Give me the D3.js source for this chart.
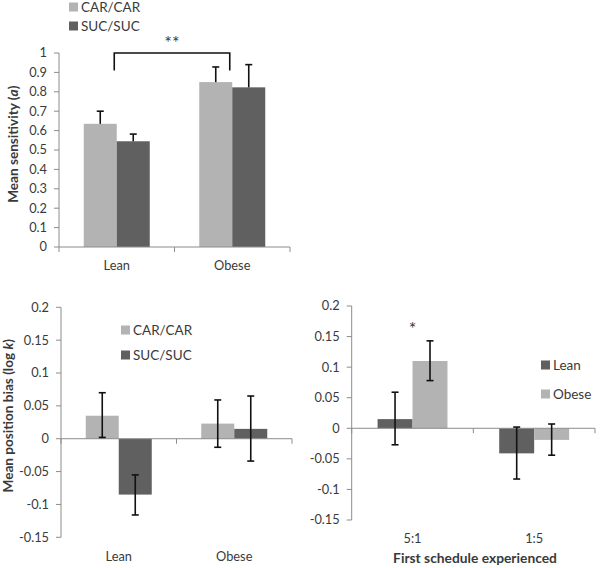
<!DOCTYPE html>
<html><head><meta charset="utf-8">
<script src="https://cdn.jsdelivr.net/npm/d3@7"></script>
<style>
body{margin:0;background:#fff;}
text{font-family:Lato,"Open Sans",sans-serif;fill:#3a3a3a;}
</style></head>
<body><svg id="c" width="600" height="568"></svg>
<script>
// ---- Panel 1: mean sensitivity ----
const groups1 = ["Lean","Obese"];
const series1 = ["CAR/CAR","SUC/SUC"];
const sensCar = [0.635, 0.850];
const sensSuc = [0.545, 0.823];
const sensCarHi = [0.700, 0.928];
const sensSucHi = [0.582, 0.940];
const ticks1 = [0,0.1,0.2,0.3,0.4,0.5,0.6,0.7,0.8,0.9,1];
const tickLabels1 = ["0","0.1","0.2","0.3","0.4","0.5","0.6","0.7","0.8","0.9","1"];

// ---- Panel 2: position bias ----
const groups2 = ["Lean","Obese"];
const biasCar = [0.035, 0.023];
const biasSuc = [-0.085, 0.015];
const biasCarLo = [0.002, -0.013];
const biasCarHi = [0.070, 0.059];
const biasSucLo = [-0.116, -0.034];
const biasSucHi = [-0.055, 0.065];
const ticksB = [-0.15,-0.1,-0.05,0,0.05,0.1,0.15,0.2];
const tickLabelsB = ["-0.15","-0.1","-0.05","0","0.05","0.1","0.15","0.2"];

// ---- Panel 3: first schedule ----
const schedules = ["5:1","1:5"];
const series3 = ["Lean","Obese"];
const schedLean = [0.015, -0.041];
const schedObese = [0.110, -0.019];
const schedLeanLo = [-0.027, -0.083];
const schedLeanHi = [0.059, 0.002];
const schedObeseLo = [0.078, -0.044];
const schedObeseHi = [0.143, 0.007];

const LIGHT = "#b3b3b3", DARK = "#606060", AXIS = "#8c8c8c";
const FS = 12.8, FT = 13.6;
const svg = d3.select("#c");

function yAxis(g, y, x0, ticks, labels){
  const a = g.append("g");
  a.append("line").attr("x1",x0).attr("x2",x0)
    .attr("y1",y(d3.max(ticks))).attr("y2",y(d3.min(ticks)))
    .attr("stroke",AXIS).attr("stroke-width",1);
  ticks.forEach((t,i)=>{
    a.append("line").attr("x1",x0-5).attr("x2",x0).attr("y1",y(t)).attr("y2",y(t))
      .attr("stroke",AXIS);
    a.append("text").attr("x",x0-12).attr("y",y(t)).attr("dy","0.35em")
      .attr("text-anchor","end").attr("font-size",FS).text(labels[i]);
  });
}
function xAxisLine(g, x, yPos){
  const r = x.range();
  g.append("line").attr("x1",r[0]).attr("x2",r[1]).attr("y1",yPos).attr("y2",yPos)
    .attr("stroke",AXIS);
  const bounds = x.domain().map(d=>x(d)).concat([r[1]]);
  bounds.forEach(b=>{
    g.append("line").attr("x1",b).attr("x2",b).attr("y1",yPos).attr("y2",yPos+5)
      .attr("stroke",AXIS);
  });
}
function errBar(g, cx, y1, y2){
  g.append("line").attr("x1",cx).attr("x2",cx).attr("y1",y1).attr("y2",y2)
    .attr("stroke","#111").attr("stroke-width",1.6);
}
function cap(g, cx, yy){
  g.append("line").attr("x1",cx-3.5).attr("x2",cx+3.5).attr("y1",yy).attr("y2",yy)
    .attr("stroke","#111").attr("stroke-width",1.6);
}
function legend(g, items, colors, x, y, gap){
  items.forEach((t,i)=>{
    g.append("rect").attr("x",x).attr("y",y+i*gap-4.5).attr("width",9).attr("height",9)
      .attr("fill",colors[i]);
    g.append("text").attr("x",x+12).attr("y",y+i*gap).attr("dy","0.35em")
      .attr("font-size",FS+0.7).text(t);
  });
}

// ===== Panel 1 =====
{
  const g = svg.append("g");
  const y = d3.scaleLinear().domain([0,1]).range([247,53]);
  const x0 = d3.scaleBand().domain(groups1).range([59,290]).padding(0);
  const x1 = d3.scaleBand().domain(series1).range([0,x0.bandwidth()]).paddingInner(0).paddingOuter(0.75);
  yAxis(g,y,59,ticks1,tickLabels1);
  const vals = [sensCar, sensSuc], his = [sensCarHi, sensSucHi], cols=[LIGHT,DARK];
  groups1.forEach((grp,gi)=>{
    series1.forEach((s,si)=>{
      const bx = x0(grp)+x1(s), bw = x1.bandwidth();
      g.append("rect").attr("x",bx).attr("width",bw).attr("y",y(vals[si][gi]))
        .attr("height",y(0)-y(vals[si][gi])).attr("fill",cols[si]);
      const cx = bx+bw/2;
      errBar(g,cx,y(vals[si][gi]),y(his[si][gi]));
      cap(g,cx,y(his[si][gi]));
    });
  });
  xAxisLine(g,x0,y(0));
  groups1.forEach(grp=>{
    g.append("text").attr("x",x0(grp)+x0.bandwidth()/2).attr("y",y(0)+19).attr("dy","0.35em")
      .attr("text-anchor","middle").attr("font-size",FS).text(grp);
  });
  // significance bracket
  const bl = x0("Lean")+x0.bandwidth()/2-2.5, br = x0("Obese")+x0.bandwidth()/2-2.5;
  g.append("path").attr("d",`M${bl},${y(0.91)}V${y(1)}H${br}V${y(0.91)}`)
    .attr("fill","none").attr("stroke","#111").attr("stroke-width",1.6);
  g.append("text").attr("x",(bl+br)/2).attr("y",y(1)-4).attr("text-anchor","middle")
    .attr("font-size",18).text("**");
  g.append("text").attr("transform",`translate(18,${y(0.53)}) rotate(-90)`)
    .attr("text-anchor","middle").attr("font-size",FT).attr("font-weight","bold")
    .html('Mean sensitivity (<tspan font-style="italic">a</tspan>)');
  legend(g, series1, [LIGHT,DARK], 69, 7, 19);
}

// ===== Panel 2 =====
{
  const g = svg.append("g");
  const y = d3.scaleLinear().domain([-0.15,0.2]).range([537.3,307.3]);
  const x0 = d3.scaleBand().domain(groups2).range([61,292]).padding(0);
  const x1 = d3.scaleBand().domain(series1).range([0,x0.bandwidth()]).paddingInner(0).paddingOuter(0.75);
  yAxis(g,y,61,ticksB,tickLabelsB);
  const vals=[biasCar,biasSuc], los=[biasCarLo,biasSucLo], his=[biasCarHi,biasSucHi], cols=[LIGHT,DARK];
  groups2.forEach((grp,gi)=>{
    series1.forEach((s,si)=>{
      const bx = x0(grp)+x1(s), bw = x1.bandwidth(), v = vals[si][gi];
      g.append("rect").attr("x",bx).attr("width",bw).attr("y",Math.min(y(v),y(0)))
        .attr("height",Math.abs(y(0)-y(v))).attr("fill",cols[si]);
    });
  });
  xAxisLine(g,x0,y(0));
  groups2.forEach((grp,gi)=>{
    series1.forEach((s,si)=>{
      const cx = x0(grp)+x1(s)+x1.bandwidth()/2;
      errBar(g,cx,y(los[si][gi]),y(his[si][gi]));
      cap(g,cx,y(los[si][gi])); cap(g,cx,y(his[si][gi]));
    });
  });
  groups2.forEach(grp=>{
    g.append("text").attr("x",x0(grp)+x0.bandwidth()/2).attr("y",y(-0.15)+19).attr("dy","0.35em")
      .attr("text-anchor","middle").attr("font-size",FS).text(grp);
  });
  g.append("text").attr("transform",`translate(13,${y(0.0)-23}) rotate(-90)`)
    .attr("text-anchor","middle").attr("font-size",FT).attr("font-weight","bold")
    .html('Mean position bias (log <tspan font-style="italic">k</tspan>)');
  legend(g, series1, [LIGHT,DARK], 121, 330, 25);
}

// ===== Panel 3 =====
{
  const g = svg.append("g");
  const y = d3.scaleLinear().domain([-0.15,0.2]).range([520,306]);
  const x0 = d3.scaleBand().domain(schedules).range([351.7,595]).padding(0);
  const x1 = d3.scaleBand().domain(series3).range([0,x0.bandwidth()]).paddingInner(0).paddingOuter(0.74);
  yAxis(g,y,351.7,ticksB,tickLabelsB);
  const vals=[schedLean,schedObese], los=[schedLeanLo,schedObeseLo], his=[schedLeanHi,schedObeseHi], cols=[DARK,LIGHT];
  schedules.forEach((grp,gi)=>{
    series3.forEach((s,si)=>{
      const bx = x0(grp)+x1(s), bw = x1.bandwidth(), v = vals[si][gi];
      g.append("rect").attr("x",bx).attr("width",bw).attr("y",Math.min(y(v),y(0)))
        .attr("height",Math.abs(y(0)-y(v))).attr("fill",cols[si]);
    });
  });
  xAxisLine(g,x0,y(0));
  schedules.forEach((grp,gi)=>{
    series3.forEach((s,si)=>{
      const cx = x0(grp)+x1(s)+x1.bandwidth()/2;
      errBar(g,cx,y(los[si][gi]),y(his[si][gi]));
      cap(g,cx,y(los[si][gi])); cap(g,cx,y(his[si][gi]));
    });
  });
  schedules.forEach(grp=>{
    g.append("text").attr("x",x0(grp)+x0.bandwidth()/2).attr("y",y(-0.15)+19).attr("dy","0.35em")
      .attr("text-anchor","middle").attr("font-size",FS).text(grp);
  });
  g.append("text").attr("x",x0("5:1")+x0.bandwidth()/2).attr("y",y(0.17)+11)
    .attr("text-anchor","middle").attr("font-size",18).text("*");
  g.append("text").attr("x",475).attr("y",y(-0.15)+38).attr("dy","0.35em")
    .attr("text-anchor","middle").attr("font-size",13.8).attr("font-weight","bold")
    .text("First schedule experienced");
  legend(g, series3, [DARK,LIGHT], 541, 365, 29);
}
</script></body></html>
